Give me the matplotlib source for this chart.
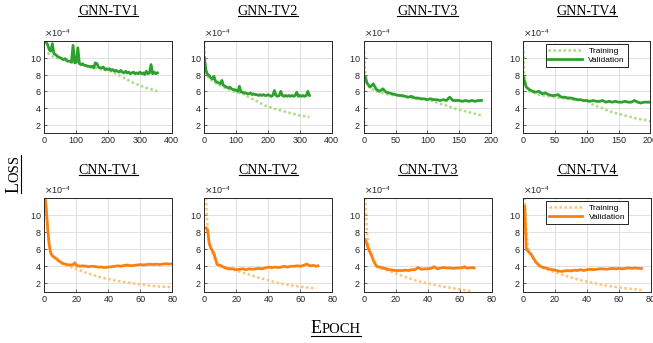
import numpy as np
import matplotlib.pyplot as plt
from matplotlib.lines import Line2D

# ---- data (loss values in units of 1e-4) ----
gnn1_val_x = list(range(5, 360, 5))
gnn1_val = [11.9, 11.6, 11.0, 10.8, 11.7, 10.5, 10.4, 10.2, 10.1, 10.0,
            9.9, 9.8, 9.9, 9.7, 9.6, 9.6, 9.5, 11.5, 9.4, 9.5,
            11.2, 9.3, 9.2, 9.3, 9.1, 9.1, 9.0, 9.0, 8.9, 9.0,
            8.8, 9.4, 9.3, 8.9, 8.8, 8.8, 8.9, 8.6, 8.7, 8.6,
            8.7, 8.5, 8.6, 8.4, 8.5, 8.4, 8.3, 8.5, 8.3, 8.2,
            8.4, 8.2, 8.3, 8.1, 8.2, 8.3, 8.1, 8.2, 8.1, 8.3,
            8.1, 8.2, 8.0, 8.4, 8.1, 8.2, 9.2, 8.1, 8.3, 8.1, 8.2]
gnn1_tr_x = [10, 20, 30, 40, 50, 60, 70, 80, 90, 100, 120, 140, 160, 180,
             200, 220, 240, 260, 280, 300, 320, 340, 355]
gnn1_tr = [10.6, 10.3, 10.1, 10.0, 9.9, 9.8, 9.6, 9.5, 9.4, 9.4, 9.2, 9.0,
           8.8, 8.6, 8.5, 8.2, 7.8, 7.4, 7.0, 6.7, 6.4, 6.2, 6.0]

gnn2_val_x = list(range(0, 335, 5))
gnn2_val = [10.0, 8.5, 8.0, 7.9, 7.6, 7.5, 7.8, 7.2, 7.1, 7.0,
            6.9, 7.3, 6.7, 6.6, 6.5, 6.4, 6.5, 6.3, 6.2, 6.2,
            6.1, 6.0, 6.6, 5.9, 5.9, 5.8, 5.8, 5.7, 5.7, 5.8,
            5.6, 5.7, 5.6, 5.6, 5.5, 5.6, 5.5, 5.6, 5.5, 5.5,
            5.6, 5.5, 5.4, 5.5, 6.1, 5.5, 5.4, 5.5, 6.0, 5.5,
            5.4, 5.5, 5.4, 5.5, 5.4, 5.5, 5.4, 5.5, 5.9, 5.4,
            5.5, 5.4, 5.5, 5.4, 5.5, 6.0, 5.5]
gnn2_tr_x = [0, 2, 5, 10, 20, 30, 40, 50, 60, 70, 80, 90, 100, 110, 120, 130,
             140, 150, 160, 170, 180, 190, 200, 220, 240, 260, 280, 300, 320, 330]
gnn2_tr = [12.0, 9.5, 8.3, 7.8, 7.4, 7.1, 6.9, 6.7, 6.5, 6.3, 6.2, 6.0, 5.9,
           5.8, 5.7, 5.5, 5.3, 5.1, 4.9, 4.7, 4.5, 4.3, 4.2, 3.9, 3.7, 3.5,
           3.3, 3.1, 3.0, 2.9]

gnn3_val_x = [1, 3] + list(range(5, 190, 5))
gnn3_val = [7.8, 7.6, 7.0, 6.5, 6.9, 6.2, 6.0, 6.3, 5.9, 5.8, 5.7, 5.6,
            5.5, 5.5, 5.4, 5.3, 5.4, 5.2, 5.2, 5.1, 5.1, 5.0,
            5.1, 5.0, 5.0, 4.9, 5.0, 4.9, 5.3, 4.9, 4.9, 4.9,
            4.8, 4.9, 4.8, 4.9, 4.8, 4.9, 4.9]
gnn3_tr_x = [0, 2, 5, 10, 20, 30, 40, 50, 60, 75, 90, 100, 110, 120, 130,
             140, 150, 160, 170, 185]
gnn3_tr = [12.0, 8.5, 7.0, 6.4, 6.0, 5.8, 5.6, 5.5, 5.4, 5.2, 5.1, 5.0, 4.8,
           4.5, 4.3, 4.0, 3.8, 3.6, 3.4, 3.1]

gnn4_val_x = [1, 3] + list(range(5, 205, 5))
gnn4_val = [7.6, 7.0, 6.5, 6.2, 6.0, 5.9, 6.0, 5.7, 5.8, 5.6, 5.5, 5.5,
            5.6, 5.3, 5.3, 5.2, 5.2, 5.1, 5.0, 5.0, 4.9, 4.9,
            4.8, 4.9, 4.8, 4.8, 4.9, 4.7, 4.8, 4.7, 4.8, 4.7,
            4.7, 4.8, 4.7, 4.7, 4.9, 4.7, 4.6, 4.7, 4.7, 4.7]
gnn4_tr_x = [0, 2, 5, 10, 20, 30, 40, 50, 60, 70, 80, 90, 100, 110, 120,
             130, 140, 150, 160, 170, 180, 190, 200]
gnn4_tr = [12.0, 8.0, 6.6, 6.0, 5.7, 5.5, 5.4, 5.3, 5.2, 5.1, 5.0, 4.9, 4.8,
           4.4, 4.1, 3.8, 3.5, 3.3, 3.1, 2.9, 2.7, 2.6, 2.4]

cnn1_val_x = [0.5, 1, 2, 3, 4, 5, 6, 8, 10, 12, 14, 16, 18, 19] + list(range(20, 82, 2))
cnn1_val = [12.0, 11.2, 8.5, 6.5, 5.5, 5.2, 5.1, 4.8, 4.5, 4.3, 4.2, 4.15, 4.2, 4.4,
            4.1, 4.0, 4.05, 4.0, 3.95, 4.0, 3.95, 3.9, 3.9, 3.85, 3.9,
            3.95, 4.0, 4.05, 4.0, 4.1, 4.15, 4.05, 4.1, 4.15, 4.2,
            4.15, 4.2, 4.25, 4.2, 4.25, 4.2, 4.25, 4.3, 4.25, 4.3]
cnn1_tr_x = [0.5, 1, 2, 3, 4, 6, 8, 10, 12, 15, 20, 25, 30, 35, 40, 45, 50,
             55, 60, 65, 70, 75, 80]
cnn1_tr = [12.0, 11.0, 8.5, 6.5, 5.5, 5.0, 4.7, 4.4, 4.2, 4.0, 3.7, 3.3, 3.0,
           2.7, 2.5, 2.3, 2.15, 2.0, 1.9, 1.75, 1.65, 1.6, 1.55]

cnn2_val_x = [1, 2, 3, 4, 5, 6, 7, 8] + list(range(10, 72, 2)) + [71]
cnn2_val = [8.5, 8.2, 6.7, 6.2, 5.8, 5.5, 4.8, 4.2,
            4.1, 3.9, 3.75, 3.7, 3.7, 3.6, 3.65, 3.7, 3.6, 3.7, 3.65,
            3.7, 3.75, 3.7, 3.8, 3.9, 3.85, 3.9, 3.85, 3.9, 4.0,
            3.9, 4.0, 4.0, 4.05, 4.0, 4.1, 4.25, 4.05, 4.1, 4.0, 4.05]
cnn2_tr_x = [1, 2, 3, 5, 8, 10, 15, 20, 25, 30, 35, 40, 45, 50, 55, 60, 65, 70]
cnn2_tr = [12.0, 8.5, 6.5, 5.5, 4.3, 4.0, 3.7, 3.5, 3.2, 2.9, 2.6, 2.35, 2.1,
           1.9, 1.75, 1.6, 1.5, 1.4]

cnn3_val_x = [1, 2, 3, 4, 5, 6, 7, 8] + list(range(10, 64, 2)) + [63, 64, 66, 68, 69]
cnn3_val = [7.1, 6.6, 6.0, 5.6, 5.2, 4.7, 4.3, 4.0,
            3.9, 3.8, 3.7, 3.6, 3.55, 3.5, 3.5, 3.5, 3.55, 3.5,
            3.6, 3.6, 3.85, 3.65, 3.7, 3.7, 3.75, 3.95, 3.7, 3.8,
            3.85, 3.8, 3.8, 3.75, 3.8, 3.8, 3.85,
            3.95, 3.8, 3.8, 3.85, 3.8]
cnn3_tr_x = [1, 2, 3, 5, 8, 10, 15, 20, 25, 30, 35, 40, 45, 50, 55, 60, 65, 68]
cnn3_tr = [12.0, 8.0, 6.5, 5.3, 4.0, 3.8, 3.5, 3.2, 2.8, 2.5, 2.2, 2.0, 1.8,
           1.6, 1.45, 1.3, 1.15, 1.05]

cnn4_val_x = [1, 2, 3, 4, 5, 6, 7, 8] + list(range(10, 76, 2))
cnn4_val = [11.0, 6.0, 5.8, 5.6, 5.4, 5.1, 4.8, 4.5,
            4.1, 3.9, 3.8, 3.7, 3.6, 3.55, 3.45, 3.4, 3.45, 3.5,
            3.45, 3.55, 3.5, 3.6, 3.5, 3.6, 3.65, 3.6, 3.65, 3.7,
            3.7, 3.65, 3.7, 3.75, 3.7, 3.75, 3.7, 3.75, 3.8, 3.75,
            3.8, 3.75, 3.75]
cnn4_tr_x = [1, 2, 3, 5, 8, 10, 15, 20, 25, 30, 35, 40, 45, 50, 55, 60, 65,
             70, 74]
cnn4_tr = [12.0, 8.5, 6.3, 5.4, 4.4, 4.0, 3.6, 3.3, 3.0, 2.7, 2.4, 2.2, 2.0,
           1.8, 1.65, 1.5, 1.4, 1.3, 1.2]

titles = ["GNN-TV1", "GNN-TV2", "GNN-TV3", "GNN-TV4",
          "CNN-TV1", "CNN-TV2", "CNN-TV3", "CNN-TV4"]
series = [(gnn1_tr_x, gnn1_tr, gnn1_val_x, gnn1_val),
          (gnn2_tr_x, gnn2_tr, gnn2_val_x, gnn2_val),
          (gnn3_tr_x, gnn3_tr, gnn3_val_x, gnn3_val),
          (gnn4_tr_x, gnn4_tr, gnn4_val_x, gnn4_val),
          (cnn1_tr_x, cnn1_tr, cnn1_val_x, cnn1_val),
          (cnn2_tr_x, cnn2_tr, cnn2_val_x, cnn2_val),
          (cnn3_tr_x, cnn3_tr, cnn3_val_x, cnn3_val),
          (cnn4_tr_x, cnn4_tr, cnn4_val_x, cnn4_val)]
xmax = [400, 400, 200, 200, 80, 80, 80, 80]
xstep = [100, 100, 50, 50, 20, 20, 20, 20]

for s in series:
    assert len(s[0]) == len(s[1]) and len(s[2]) == len(s[3])

plt.rcParams['font.family'] = 'Liberation Sans'
fig = plt.figure(figsize=(6.53, 3.43), dpi=100)

lefts = [0.068, 0.313, 0.557, 0.801]
axes = []
for i in range(8):
    row = i // 4
    if row == 0:
        ax = fig.add_axes([lefts[i % 4], 0.612, 0.195, 0.268])
    else:
        ax = fig.add_axes([lefts[i % 4], 0.149, 0.196, 0.274])
    axes.append(ax)
    trx, tr, vx, v = series[i]
    if row == 0:
        c_tr, c_val = '#a9dd85', '#2ea02e'
    else:
        c_tr, c_val = '#ffc27a', '#ff7f0e'
    ax.plot(trx, np.array(tr) * 1e-4, ls=(0, (1, 1)), lw=1.8, color=c_tr,
            label='Training')
    ax.plot(vx, np.array(v) * 1e-4, '-', lw=2.0, color=c_val,
            label='Validation')
    ax.set_xlim(0, xmax[i])
    ax.set_ylim(1e-4, 12e-4)
    ax.set_xticks(np.arange(0, xmax[i] + 1, xstep[i]))
    ax.set_yticks(np.arange(2, 11, 2) * 1e-4)
    ax.ticklabel_format(axis='y', style='sci', scilimits=(-4, -4), useMathText=True)
    ax.yaxis.get_offset_text().set_fontsize(6.5)
    ax.yaxis.get_offset_text().set_color('#404040')
    ax.grid(True, color='#dcdcdc', lw=0.6)
    ax.set_axisbelow(True)
    ax.tick_params(labelsize=6.5, colors='#262626', direction='in', length=2,
                   width=0.5, pad=2)
    for sp in ax.spines.values():
        sp.set_color('#262626')
        sp.set_linewidth(0.7)
    ax.set_title(titles[i], fontfamily='Liberation Serif', fontsize=10,
                 pad=19 if row == 0 else 17)
    if i % 4 == 3:
        ax.legend(loc='upper center', fontsize=6, handlelength=4,
                  fancybox=False, edgecolor='black', framealpha=1,
                  borderaxespad=0.4, labelspacing=0.2, borderpad=0.3)
        ax.get_legend().get_frame().set_linewidth(0.6)

# small-caps axis labels
serif = 'Liberation Serif'
big, small = 13, 10.5
ex, ey = 0.476, 0.029
lx, ly = 0.0285, 0.437
e1 = fig.text(ex, ey, "E", fontsize=big, family=serif, va='baseline')
l1 = fig.text(lx, ly, "L", fontsize=big, family=serif, rotation=90,
              rotation_mode='anchor', ha='left', va='baseline')
fig.canvas.draw()
r = fig.canvas.get_renderer()
W, H = fig.bbox.width, fig.bbox.height
eb = e1.get_window_extent(r)
e2 = fig.text(eb.x1 / W, ey, "POCH", fontsize=small, family=serif, va='baseline')
lb = l1.get_window_extent(r)
l2 = fig.text(lx, lb.y1 / H, "OSS", fontsize=small, family=serif, rotation=90,
              rotation_mode='anchor', ha='left', va='baseline')
fig.canvas.draw()
e2b = e2.get_window_extent(r)
l3b = l2.get_window_extent(r)
fig.add_artist(Line2D([eb.x0 / W, e2b.x1 / W], [ey - 3 / H] * 2,
                      color='black', lw=0.8))
fig.add_artist(Line2D([lx + 2.5 / W] * 2, [lb.y0 / H, l3b.y1 / H],
                      color='black', lw=0.8))

# underline subplot titles
for ax in axes:
    tb = ax.title.get_window_extent(r)
    y = tb.y0 + 2
    fig.add_artist(Line2D([tb.x0 / W, tb.x1 / W], [y / H, y / H],
                          color='black', lw=0.8))

fig.savefig('out.png', dpi=100)
